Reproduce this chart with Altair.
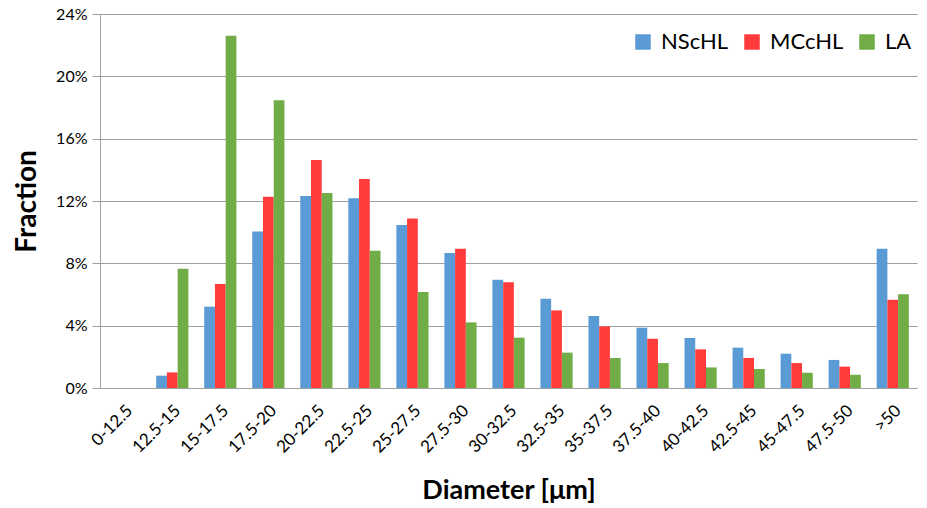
import altair as alt
import pandas as pd

categories = ["0-12.5", "12.5-15", "15-17.5", "17.5-20", "20-22.5", "22.5-25", "25-27.5",
              "27.5-30", "30-32.5", "32.5-35", "35-37.5", "37.5-40", "40-42.5", "42.5-45",
              "45-47.5", "47.5-50", ">50"]
series = ["NScHL", "MCcHL", "LA"]
nschl = [0.0, 0.79, 5.22, 10.05, 12.32, 12.17, 10.46, 8.66, 6.95, 5.73, 4.62, 3.87, 3.21, 2.59, 2.20, 1.80, 8.94]
mcchl = [0.0, 1.00, 6.67, 12.28, 14.63, 13.41, 10.87, 8.94, 6.78, 4.98, 3.95, 3.16, 2.48, 1.93, 1.60, 1.37, 5.67]
la = [0.0, 7.66, 22.6, 18.46, 12.51, 8.81, 6.16, 4.21, 3.23, 2.27, 1.93, 1.60, 1.32, 1.22, 0.98, 0.85, 6.01]
colors = ["#5B9BD5", "#FF3B3B", "#70AD47"]

rows = []
for name, vals in zip(series, [nschl, mcchl, la]):
    for c, v in zip(categories, vals):
        rows.append({"Diameter": c, "Series": name, "Fraction": v / 100.0})
df = pd.DataFrame(rows)

FONT = "Lato"

chart = alt.Chart(df).mark_bar().encode(
    x=alt.X("Diameter:N", sort=categories,
            scale=alt.Scale(paddingInner=0.33, paddingOuter=0.17),
            axis=alt.Axis(title="Diameter [μm]", labelAngle=-45, labelFontSize=17,
                          labelColor="#000000", labelFont=FONT, ticks=False,
                          domainColor="#A0A0A0", labelPadding=14,
                          titleFont=FONT, titleFontSize=27, titleFontWeight="bold",
                          titleColor="#000000", titlePadding=22)),
    xOffset=alt.XOffset("Series:N", sort=series, scale=alt.Scale(paddingInner=0, paddingOuter=0)),
    y=alt.Y("Fraction:Q", scale=alt.Scale(domain=[0, 0.24], nice=False),
            axis=alt.Axis(title="Fraction", format=".0%", values=[0, 0.04, 0.08, 0.12, 0.16, 0.20, 0.24],
                          labelFontSize=16, labelFont=FONT, labelColor="#000000",
                          tickSize=8, tickColor="#A0A0A0", domainColor="#A0A0A0",
                          gridColor="#A0A0A0", labelPadding=5,
                          titleFont=FONT, titleFontSize=28, titleFontWeight="bold",
                          titleColor="#000000", titlePadding=14)),
    color=alt.Color("Series:N", sort=series,
                    scale=alt.Scale(domain=series, range=colors),
                    legend=alt.Legend(title=None, orient="none", direction="horizontal",
                                      legendX=532, legendY=17, symbolType="square",
                                      symbolSize=240, symbolStrokeWidth=0, labelFontSize=22,
                                      labelFont=FONT, labelColor="#000000", columnPadding=12,
                                      labelOffset=7, symbolOpacity=1)),
).properties(
    width=817, height=374,
    autosize=alt.AutoSizeParams(type="none"),
    padding={"left": 100, "top": 14, "right": 10, "bottom": 120},
).configure_view(stroke=None).configure_axis(gridWidth=1)

chart.save("out.html", embed_options={"renderer": "svg", "actions": False})
